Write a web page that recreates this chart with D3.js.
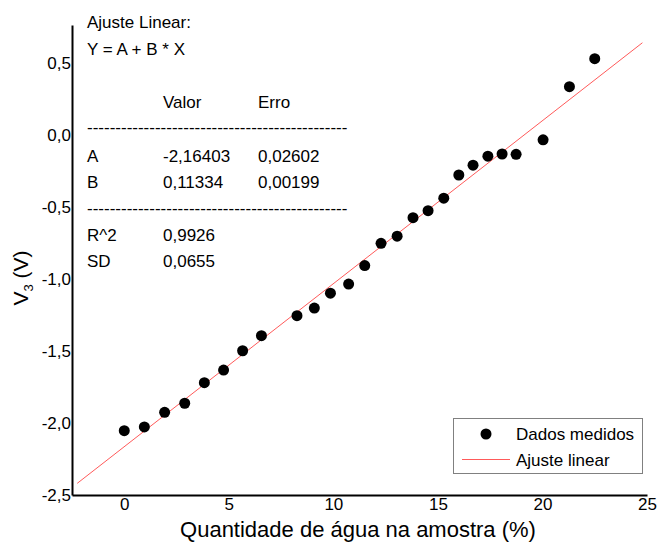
<!DOCTYPE html>
<html>
<head>
<meta charset="utf-8">
<script src="https://cdn.jsdelivr.net/npm/d3@7"></script>
<style>
  html, body { margin: 0; padding: 0; background: #fff; }
  svg { display: block; font-family: "Liberation Sans", Arial, sans-serif; }
</style>
</head>
<body>
<svg id="chart" width="659" height="543"></svg>
<script>
// ---- data ----
const waterPct = [0, 0.96, 1.93, 2.89, 3.83, 4.75, 5.66, 6.56, 8.26, 9.09, 9.86, 10.73, 11.5, 12.28, 13.05, 13.81, 14.53, 15.28, 16.0, 16.68, 17.39, 18.07, 18.74, 20.03, 21.29, 22.5];
const voltage = [-2.053, -2.027, -1.925, -1.862, -1.719, -1.631, -1.497, -1.392, -1.253, -1.200, -1.097, -1.033, -0.905, -0.750, -0.700, -0.572, -0.523, -0.436, -0.275, -0.207, -0.144, -0.129, -0.131, -0.030, 0.339, 0.534];
const fitA = -2.16403;
const fitB = 0.11334;
const fitRange = [-2.25, 24.78];
const xTicks = [0, 5, 10, 15, 20, 25];
const yTicks = [-2.5, -2.0, -1.5, -1.0, -0.5, 0.0, 0.5];
const infoLines = [
  ["Ajuste Linear:", "", ""],
  ["Y = A + B * X", "", ""],
  ["", "Valor", "Erro"],
  ["----------------------------------------------", "", ""],
  ["A", "-2,16403", "0,02602"],
  ["B", "0,11334", "0,00199"],
  ["----------------------------------------------", "", ""],
  ["R^2", "0,9926", ""],
  ["SD", "0,0655", ""]
];
const infoBaselines = [28, 55, 108, 133, 162, 188, 214, 241, 267];
const legendLabels = ["Dados medidos", "Ajuste linear"];

// ---- chart ----
const svg = d3.select("#chart");
const x = d3.scaleLinear().domain([-2.5, 25]).range([72, 647]);
const y = d3.scaleLinear().domain([-2.5, 0.768]).range([495, 25]);
const fmt = v => v.toFixed(1).replace(".", ",");

// fit line
const fitData = fitRange.map(v => [v, fitA + fitB * v]);
svg.append("path")
  .datum(fitData)
  .attr("fill", "none")
  .attr("stroke", "#ff5a5a")
  .attr("stroke-width", 1)
  .attr("d", d3.line().x(d => x(d[0])).y(d => y(d[1])));

// points
svg.append("g").selectAll("circle")
  .data(waterPct.map((v, i) => [v, voltage[i]]))
  .join("circle")
  .attr("cx", d => x(d[0]))
  .attr("cy", d => y(d[1]))
  .attr("r", 5.5)
  .attr("fill", "#000");

// axes
const xAxis = svg.append("g")
  .attr("transform", "translate(0,495)")
  .call(d3.axisBottom(x).tickValues(xTicks).tickSize(0).tickPadding(3).tickFormat(d => String(d)));
xAxis.select(".domain").attr("stroke", "#000").attr("stroke-width", 2);
xAxis.selectAll("text").attr("font-size", 17).attr("fill", "#000").attr("font-family", "Liberation Sans, Arial, sans-serif");

const yAxis = svg.append("g")
  .attr("transform", "translate(72,0)")
  .call(d3.axisLeft(y).tickValues(yTicks).tickSize(0).tickPadding(1).tickFormat(fmt));
yAxis.select(".domain").attr("stroke", "#000").attr("stroke-width", 2);
yAxis.selectAll("text").attr("font-size", 17).attr("fill", "#000").attr("font-family", "Liberation Sans, Arial, sans-serif");

// axis titles
svg.append("text")
  .attr("x", 358).attr("y", 537)
  .attr("text-anchor", "middle")
  .attr("font-size", 22)
  .text("Quantidade de água na amostra (%)");

const yt = svg.append("text")
  .attr("transform", "translate(28,278) rotate(-90)")
  .attr("text-anchor", "middle")
  .attr("font-size", 21);
yt.append("tspan").text("V");
yt.append("tspan").attr("font-size", 13).attr("dy", 5).text("3");
yt.append("tspan").attr("dy", -5).text(" (V)");

// info text block
const colX = [87, 163, 258];
const info = svg.append("g").attr("font-size", 17);
infoLines.forEach((row, i) => {
  row.forEach((t, j) => {
    if (t) info.append("text").attr("x", colX[j]).attr("y", infoBaselines[i]).text(t);
  });
});

// legend
const lg = svg.append("g");
lg.append("rect").attr("x", 453.5).attr("y", 418.5).attr("width", 189).attr("height", 55)
  .attr("fill", "#fff").attr("stroke", "#808080").attr("stroke-width", 1);
lg.append("circle").attr("cx", 486).attr("cy", 434).attr("r", 5.5).attr("fill", "#000");
lg.append("line").attr("x1", 462).attr("x2", 510).attr("y1", 459.5).attr("y2", 459.5)
  .attr("stroke", "#ff5a5a").attr("stroke-width", 1);
lg.append("text").attr("x", 516).attr("y", 440).attr("font-size", 17).text(legendLabels[0]);
lg.append("text").attr("x", 516).attr("y", 466).attr("font-size", 17).text(legendLabels[1]);
</script>
</body>
</html>
